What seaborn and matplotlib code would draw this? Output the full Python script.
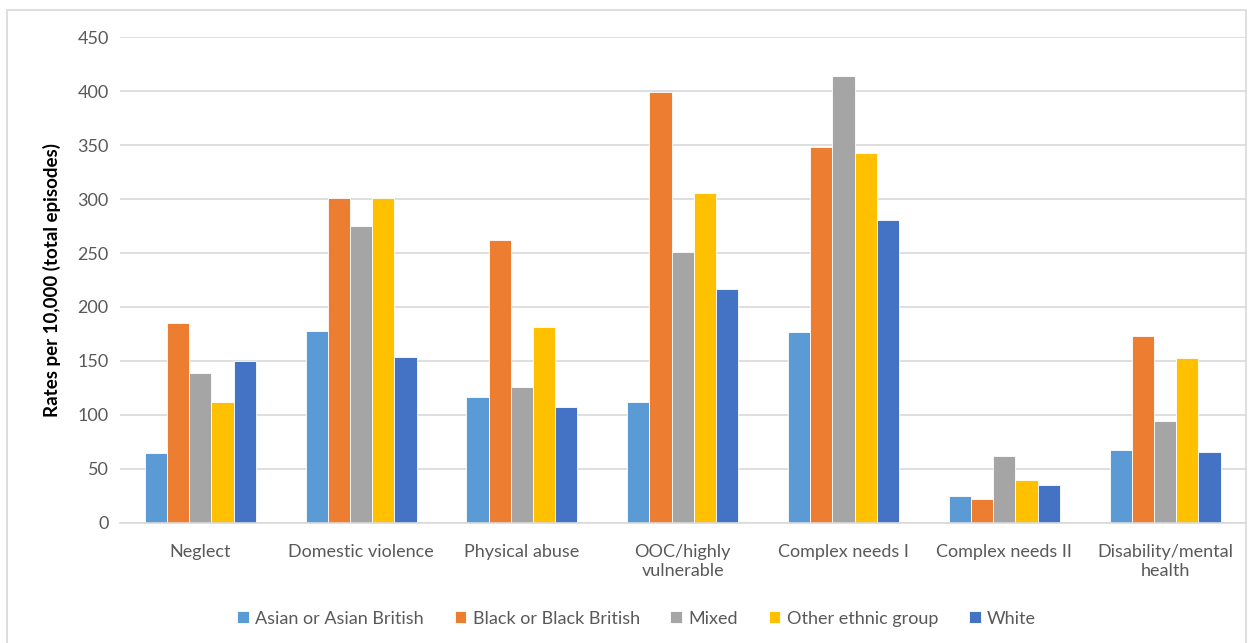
import pandas as pd
import matplotlib.pyplot as plt
import seaborn as sns
from matplotlib.patches import Rectangle

categories = ['Neglect', 'Domestic violence', 'Physical abuse', 'OOC/highly\nvulnerable',
              'Complex needs I', 'Complex needs II', 'Disability/mental\nhealth']
groups = ['Asian or Asian British', 'Black or Black British', 'Mixed', 'Other ethnic group', 'White']

asian = [65, 178, 117, 112, 177, 25, 67]
black = [185, 301, 262, 399, 348, 22, 173]
mixed = [139, 275, 126, 251, 414, 62, 94]
other = [112, 301, 181, 306, 343, 40, 153]
white = [150, 154, 107, 217, 281, 35, 66]

colors = ['#5B9BD5', '#ED7D31', '#A5A5A5', '#FFC000', '#4472C4']

rows = []
for g, vals in zip(groups, [asian, black, mixed, other, white]):
    for c, v in zip(categories, vals):
        rows.append({'Category': c, 'Group': g, 'Rate': v})
df = pd.DataFrame(rows)

sns.set_style('white')
plt.rcParams['font.family'] = ['Lato', 'DejaVu Sans']

fig = plt.figure(figsize=(12.48, 6.43), dpi=100)
ax = fig.add_axes([0.096, 0.187, 0.902, 0.755])

sns.barplot(data=df, x='Category', y='Rate', hue='Group', palette=colors,
            order=categories, hue_order=groups, width=0.69, saturation=1,
            edgecolor='white', linewidth=0.6, ax=ax)

ax.set_ylim(0, 450)
ax.set_yticks(range(0, 451, 50))
ax.yaxis.grid(True, color='#D9D9D9', linewidth=1.2)
ax.set_axisbelow(True)
for s in ['top', 'right', 'left']:
    ax.spines[s].set_visible(False)
ax.spines['bottom'].set_color('#D9D9D9')
ax.spines['bottom'].set_linewidth(1.2)
ax.tick_params(axis='both', colors='#595959', labelsize=13, length=0, pad=8)
ax.tick_params(axis='x', pad=15)
for lbl in ax.get_xticklabels():
    lbl.set_linespacing(1.3)
ax.set_xlabel('')
ax.set_ylabel('Rates per 10,000 (total episodes)', fontsize=13.5, fontweight='bold',
              color='black', labelpad=12)
ax.set_xlim(-0.5, len(categories) - 0.5)

ax.legend(loc='lower center', bbox_to_anchor=(0.51, 0.0), bbox_transform=fig.transFigure,
          ncol=5, frameon=False, fontsize=13, handlelength=0.65, handleheight=0.65,
          handletextpad=0.35, columnspacing=1.7, labelcolor='#595959')

fig.patches.append(Rectangle((0.006, -0.01), 0.992, 0.995, transform=fig.transFigure,
                             fill=False, edgecolor='#D9D9D9', linewidth=1.2))

fig.savefig('out.png', dpi=100)
